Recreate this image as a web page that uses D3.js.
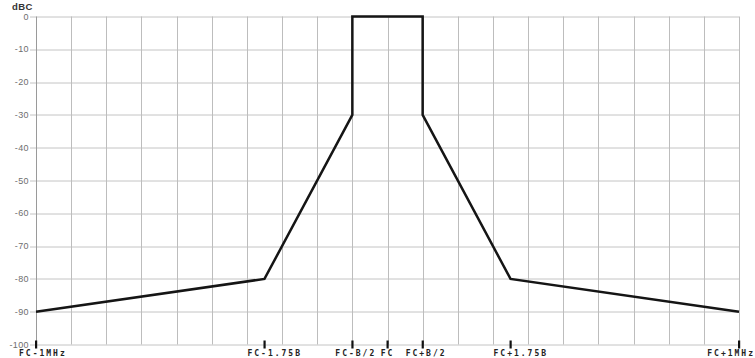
<!DOCTYPE html>
<html>
<head>
<meta charset="utf-8">
<script src="https://cdn.jsdelivr.net/npm/d3@7"></script>
<style>
  body { margin: 0; background: #fff; }
  svg { display: block; }
</style>
</head>
<body>
<div id="root"></div>
<script>
// frequency offset from FC in units of bandwidth B, level in dBc
const maskOffsets = [-5, -1.75, -0.5, -0.5, 0.5, 0.5, 1.75, 5];
const maskLevels = [-90, -80, -30, 0, 0, -30, -80, -90];

const xTickValues = [-5, -1.75, -0.5, 0, 0.5, 1.75, 5];
const xTickLabels = ["FC-1MHz", "FC-1.75B", "FC-B/2", "FC", "FC+B/2", "FC+1.75B", "FC+1MHz"];
const yTickValues = [0, -10, -20, -30, -40, -50, -60, -70, -80, -90, -100];
const gridSteps = d3.range(-5, 5.01, 0.5);

const outerWidth = 755;
const outerHeight = 358;
const margin = { top: 16.5, right: 16, bottom: 13.5, left: 36 };
const width = outerWidth - margin.left - margin.right;
const height = outerHeight - margin.top - margin.bottom;

const x = d3.scaleLinear().domain([-5, 5]).range([0, width]);
const y = d3.scaleLinear().domain([-100, 0]).range([height, 0]);

const svg = d3.select("#root").append("svg")
    .attr("width", outerWidth)
    .attr("height", outerHeight);

const chart = svg.append("g")
    .attr("transform", `translate(${margin.left}, ${margin.top})`);

// grid
chart.append("g").selectAll("line")
    .data(yTickValues)
    .join("line")
    .attr("x1", -6).attr("x2", width)
    .attr("y1", d => Math.round(y(d)) + 0.5).attr("y2", d => Math.round(y(d)) + 0.5)
    .attr("stroke", "#c4c4c4");

chart.append("g").selectAll("line")
    .data(gridSteps)
    .join("line")
    .attr("x1", d => Math.round(x(d)) + 0.5).attr("x2", d => Math.round(x(d)) + 0.5)
    .attr("y1", 0).attr("y2", height)
    .attr("stroke", (d, i) => i === 0 ? "#9a9a9a" : "#bdbdbd");

// y labels
chart.append("g").selectAll("text")
    .data(yTickValues)
    .join("text")
    .attr("x", -7)
    .attr("y", d => y(d))
    .attr("dy", "0.35em")
    .attr("text-anchor", "end")
    .style("font-family", "Liberation Sans, Arial, sans-serif")
    .style("font-size", "9px")
    .style("letter-spacing", "0.4px")
    .attr("fill", "#6e6e6e")
    .text(d => d);

svg.append("text")
    .attr("x", 12)
    .attr("y", 10)
    .style("font-family", "Liberation Sans, Arial, sans-serif")
    .style("font-size", "9.5px")
    .style("font-weight", "bold")
    .style("letter-spacing", "0.4px")
    .attr("fill", "#333")
    .text("dBC");

// x ticks
chart.append("g").selectAll("rect")
    .data(xTickValues)
    .join("rect")
    .attr("x", d => x(d) - 1)
    .attr("y", height - 4)
    .attr("width", 2.2)
    .attr("height", 8)
    .attr("fill", "#111");

chart.append("g").selectAll("text")
    .data(xTickValues)
    .join("text")
    .attr("x", (d, i) => i === xTickValues.length - 1 ? outerWidth - margin.left : x(d) + (d === 0 ? 0 : -17))
    .attr("y", height + 11.5)
    .attr("text-anchor", (d, i) => i === xTickValues.length - 1 ? "end" : (d === 0 ? "middle" : "start"))
    .style("font-family", "DejaVu Sans Mono, monospace")
    .style("font-size", "8px")
    .style("font-weight", "bold")
    .style("letter-spacing", "2px")
    .attr("fill", "#222")
    .text((d, i) => xTickLabels[i]);

// mask line
const line = d3.line()
    .x(d => x(d[0]))
    .y(d => y(d[1]));

chart.append("path")
    .datum(d3.zip(maskOffsets, maskLevels))
    .attr("d", line)
    .attr("fill", "none")
    .attr("stroke", "#151515")
    .attr("stroke-width", 2.5)
    .attr("stroke-linejoin", "miter");
</script>
</body>
</html>
